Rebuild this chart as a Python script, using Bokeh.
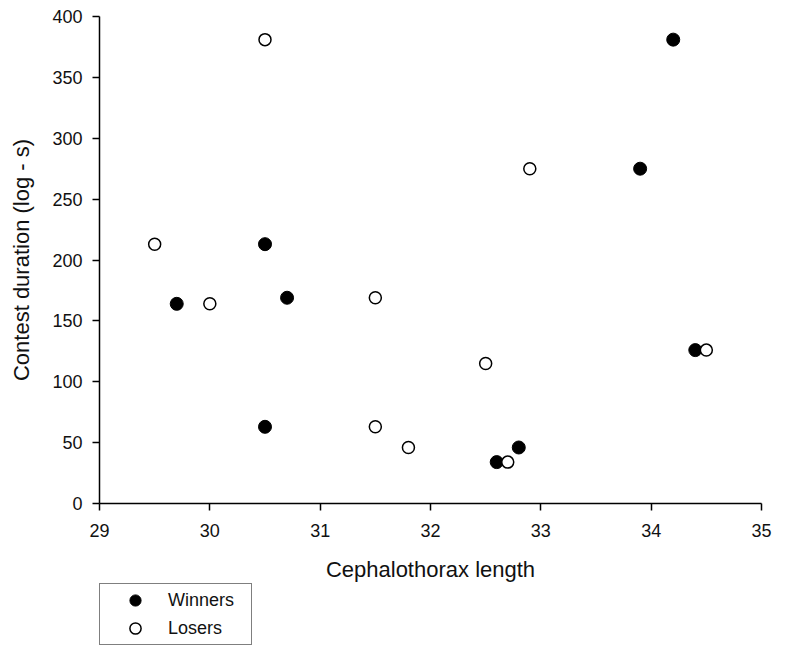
from bokeh.plotting import figure
from bokeh.models import Legend, LegendItem, FixedTicker, Range1d
from bokeh.embed import file_html
from bokeh.resources import INLINE

# Winners (filled)
win_x = [29.7, 30.5, 30.5, 30.7, 32.6, 32.8, 33.9, 34.2, 34.4]
win_y = [164, 213, 63, 169, 34, 46, 275, 381, 126]
# Losers (open)
lose_x = [29.5, 30.0, 30.5, 31.5, 31.5, 31.8, 32.5, 32.7, 32.9, 34.5]
lose_y = [213, 164, 381, 169, 63, 46, 115, 34, 275, 126]

x_ticks = [29, 30, 31, 32, 33, 34, 35]
y_ticks = [0, 50, 100, 150, 200, 250, 300, 350, 400]

FONT = "Liberation Sans"

W, H = 772, 646
X_MIN, X_MAX = 29, 35
Y_MIN, Y_MAX = 0, 400
# pixel placement of the axes box inside the canvas
LEFT_PX, RIGHT_PX, TOP_PX, BOTTOM_PX = 99, 761, 16, 503
xs = (RIGHT_PX - LEFT_PX) / (X_MAX - X_MIN)
ys = (BOTTOM_PX - TOP_PX) / (Y_MAX - Y_MIN)
x_range = Range1d(X_MIN - LEFT_PX / xs, X_MAX + (W - RIGHT_PX) / xs)
y_range = Range1d(Y_MIN - (H - BOTTOM_PX) / ys, Y_MAX + TOP_PX / ys)

p = figure(width=W, height=H, output_backend="svg", toolbar_location=None,
           x_range=x_range, y_range=y_range,
           min_border_left=0, min_border_right=0, min_border_top=0, min_border_bottom=0)
p.outline_line_color = None
p.grid.visible = False
p.background_fill_color = "white"
p.border_fill_color = "white"

r_win = p.scatter(win_x, win_y, size=13, marker="circle", fill_color="black",
                  line_color="black", line_width=1)
r_lose = p.scatter(lose_x, lose_y, size=12, marker="circle", fill_color="white",
                   line_color="black", line_width=1.5)

for ax in (p.xaxis[0], p.yaxis[0]):
    ax.axis_line_color = "black"
    ax.axis_line_width = 1.5
    ax.major_tick_line_color = "black"
    ax.major_tick_line_width = 1.5
    ax.major_tick_out = 7
    ax.major_tick_in = 0
    ax.minor_tick_line_color = None
    ax.major_label_text_font = FONT
    ax.major_label_text_font_size = "18px"
    ax.major_label_text_color = "#111111"
    ax.axis_label_text_font = FONT
    ax.axis_label_text_font_size = "22px"
    ax.axis_label_text_font_style = "normal"
    ax.axis_label_text_color = "#111111"

p.xaxis[0].ticker = FixedTicker(ticks=x_ticks)
p.yaxis[0].ticker = FixedTicker(ticks=y_ticks)
p.xaxis[0].fixed_location = Y_MIN
p.yaxis[0].fixed_location = X_MIN
p.xaxis[0].bounds = (X_MIN, X_MAX)
p.yaxis[0].bounds = (Y_MIN, Y_MAX)
p.xaxis[0].axis_label = "Cephalothorax length"
p.yaxis[0].axis_label = "Contest duration (log - s)"
p.xaxis[0].major_label_standoff = 13
p.yaxis[0].major_label_standoff = 10
p.xaxis[0].axis_label_standoff = 17
p.yaxis[0].axis_label_standoff = 15

legend = Legend(items=[LegendItem(label="Winners", renderers=[r_win]),
                       LegendItem(label="Losers", renderers=[r_lose])],
                location=(LEFT_PX, 1))
legend.padding = 2
legend.spacing = 0
legend.glyph_height = 28
legend.glyph_width = 66
legend.label_standoff = 0
legend.label_width = 81
legend.label_height = 20
legend.margin = 0
legend.border_line_color = "black"
legend.border_line_width = 1
legend.background_fill_color = "white"
legend.background_fill_alpha = 1
legend.label_text_font = FONT
legend.label_text_font_size = "18px"
legend.label_text_color = "#111111"
p.add_layout(legend, "center")

open("out.html", "w").write(file_html(p, INLINE))
